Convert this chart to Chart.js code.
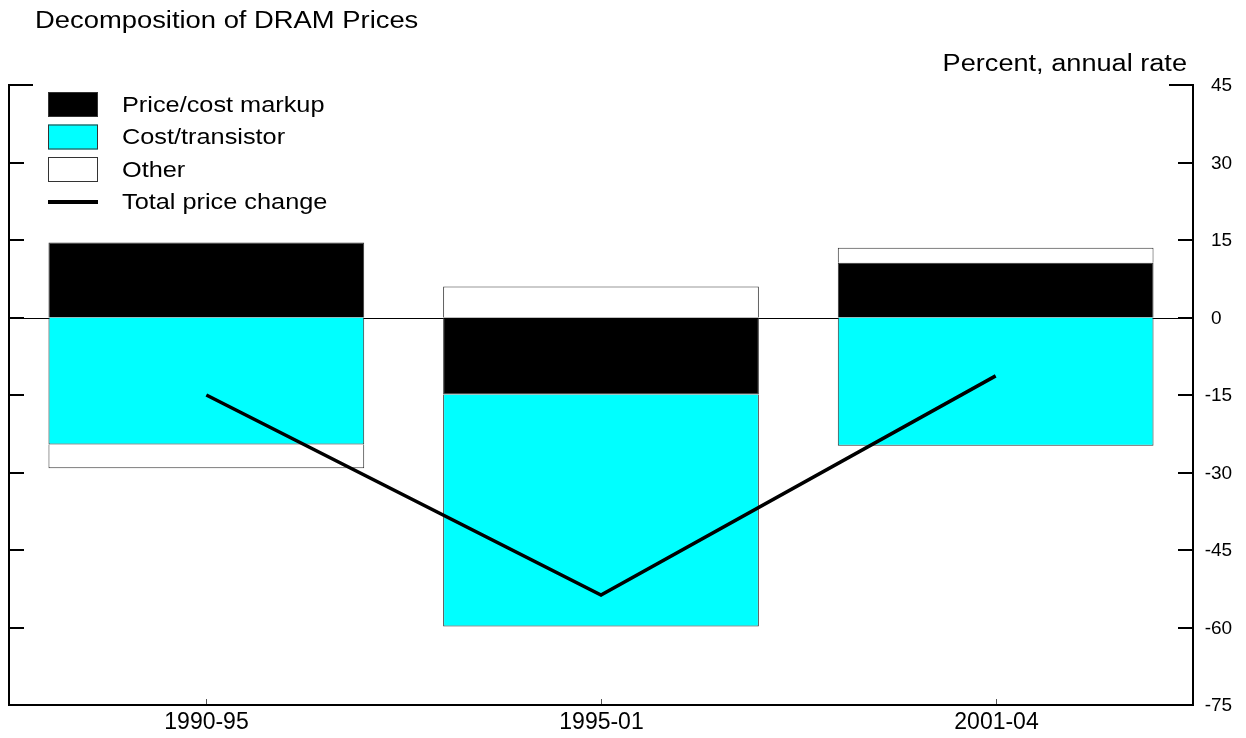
<!DOCTYPE html>
<html>
<head>
<meta charset="utf-8">
<title>Decomposition of DRAM Prices</title>
<script src="https://cdn.jsdelivr.net/npm/chart.js@4.4.0/dist/chart.umd.min.js"></script>
<style>
  html, body { margin: 0; padding: 0; background: #fff; }
  #wrap { width: 1246px; height: 738px; position: relative; }
</style>
</head>
<body>
<div id="wrap"><canvas id="myChart"></canvas></div>
<script>
// data
var categories = ['1990-95', '1995-01', '2001-04'];
var markup = [14.5, -14.9, 10.6];
var costPerTransistor = [-24.6, -44.9, -24.8];
var other = [-4.6, 6.0, 2.9];
var totalChange = [-15.0, -53.7, -11.3];
var yTicks = [45, 30, 15, 0, -15, -30, -45, -60, -75];

var FONT = '"Liberation Sans", Arial, Helvetica, sans-serif';

// draws a string stretched horizontally (the source text is wide)
function wideText(ctx, text, x, y, sx, align) {
    ctx.save();
    var w = ctx.measureText(text).width * sx;
    var x0 = x;
    if (align === 'right') x0 = x - w;
    if (align === 'center') x0 = x - w / 2;
    ctx.translate(x0, y);
    ctx.scale(sx, 1);
    ctx.textAlign = 'left';
    ctx.fillText(text, 0, 0);
    ctx.restore();
}

// zero line under the bars
var zeroLine = {
    id: 'zeroLine',
    beforeDatasetsDraw: function (chart) {
        var ctx = chart.ctx, a = chart.chartArea;
        var y = Math.round(chart.scales.y.getPixelForValue(0)) + 0.5;
        ctx.save();
        ctx.strokeStyle = '#000';
        ctx.lineWidth = 1;
        ctx.beginPath();
        ctx.moveTo(a.left, y);
        ctx.lineTo(a.right, y);
        ctx.stroke();
        ctx.restore();
    }
};

// frame, ticks, labels, legend, titles
var decorations = {
    id: 'decorations',
    afterDraw: function (chart) {
        var ctx = chart.ctx, a = chart.chartArea;
        var ys = chart.scales.y, xs = chart.scales.x;
        ctx.save();
        ctx.strokeStyle = '#000';
        ctx.fillStyle = '#000';
        ctx.lineWidth = 2;
        ctx.lineCap = 'butt';

        // left, bottom and right axis lines
        ctx.beginPath();
        ctx.moveTo(a.left, a.top);
        ctx.lineTo(a.left, a.bottom);
        ctx.lineTo(a.right, a.bottom);
        ctx.lineTo(a.right, a.top);
        ctx.stroke();

        // inward ticks on both sides, longer one at the top
        yTicks.forEach(function (v, i) {
            var y = Math.round(ys.getPixelForValue(v));
            if (v === -75) return;
            var len = (i === 0) ? 24 : 15;
            ctx.beginPath();
            ctx.moveTo(a.left - 1, y);
            ctx.lineTo(a.left + len, y);
            ctx.moveTo(a.right + 1, y);
            ctx.lineTo(a.right - len, y);
            ctx.stroke();
        });

        // y tick labels on the right, minus sign hangs left
        ctx.font = '19px ' + FONT;
        ctx.textBaseline = 'middle';
        ctx.textAlign = 'left';
        var minusW = ctx.measureText('-').width;
        yTicks.forEach(function (v) {
            var y = ys.getPixelForValue(v);
            var x = a.right + 18 - (v < 0 ? minusW : 0);
            ctx.fillText(String(v), x, y + 1);
        });

        // small category ticks and labels
        ctx.strokeStyle = '#555';
        ctx.lineWidth = 1;
        ctx.font = '23px ' + FONT;
        ctx.textAlign = 'center';
        categories.forEach(function (c, i) {
            var x = Math.round(xs.getPixelForValue(i)) + 0.5;
            ctx.beginPath();
            ctx.moveTo(x, a.bottom - 6);
            ctx.lineTo(x, a.bottom - 1);
            ctx.stroke();
            ctx.fillText(c, x, a.bottom + 18);
        });

        // titles
        ctx.textBaseline = 'alphabetic';
        ctx.font = '23px ' + FONT;
        wideText(ctx, 'Decomposition of DRAM Prices', 35, 28, 1.19, 'left');
        wideText(ctx, 'Percent, annual rate', 1187, 71, 1.18, 'right');

        // legend built from the datasets
        var rowTop = 92, rowStep = 32.5;
        ctx.font = '22px ' + FONT;
        ctx.textBaseline = 'middle';
        chart.data.datasets.forEach(function (ds, i) {
            var top = rowTop + i * rowStep;
            var mid = top + 12.5;
            if (ds.type === 'line') {
                ctx.strokeStyle = ds.borderColor;
                ctx.lineWidth = 4;
                ctx.beginPath();
                ctx.moveTo(48, mid);
                ctx.lineTo(98, mid);
                ctx.stroke();
            } else {
                ctx.fillStyle = ds.backgroundColor;
                ctx.fillRect(48, top, 50, 25);
                ctx.strokeStyle = '#333';
                ctx.lineWidth = 1;
                ctx.strokeRect(48.5, top + 0.5, 49, 24);
            }
            ctx.fillStyle = '#000';
            wideText(ctx, ds.label, 122, mid + 1, 1.15, 'left');
        });
        ctx.restore();
    }
};

var ctx = document.getElementById('myChart').getContext('2d');
var myChart = new Chart(ctx, {
    data: {
        labels: categories,
        datasets: [{
            type: 'bar',
            label: 'Price/cost markup',
            data: markup,
            backgroundColor: '#000000',
            borderColor: '#333333',
            borderWidth: 1,
            order: 1
        }, {
            type: 'bar',
            label: 'Cost/transistor',
            data: costPerTransistor,
            backgroundColor: '#00ffff',
            borderColor: '#333333',
            borderWidth: 1,
            order: 1
        }, {
            type: 'bar',
            label: 'Other',
            data: other,
            backgroundColor: '#ffffff',
            borderColor: '#333333',
            borderWidth: 1,
            order: 1
        }, {
            type: 'line',
            label: 'Total price change',
            data: totalChange,
            stack: 'total',
            borderColor: '#000000',
            borderWidth: 3.5,
            pointRadius: 0,
            tension: 0,
            fill: false,
            order: 0
        }]
    },
    options: {
        responsive: true,
        maintainAspectRatio: false,
        animation: false,
        layout: {
            padding: { left: 9, right: 53, top: 85, bottom: 33 }
        },
        datasets: {
            bar: { barPercentage: 0.8, categoryPercentage: 1.0 }
        },
        scales: {
            x: {
                display: false,
                stacked: true,
                offset: true
            },
            y: {
                display: false,
                stacked: true,
                min: -75,
                max: 45
            }
        },
        plugins: {
            legend: { display: false },
            title: { display: false },
            tooltip: { enabled: false }
        }
    },
    plugins: [zeroLine, decorations]
});
</script>
</body>
</html>
